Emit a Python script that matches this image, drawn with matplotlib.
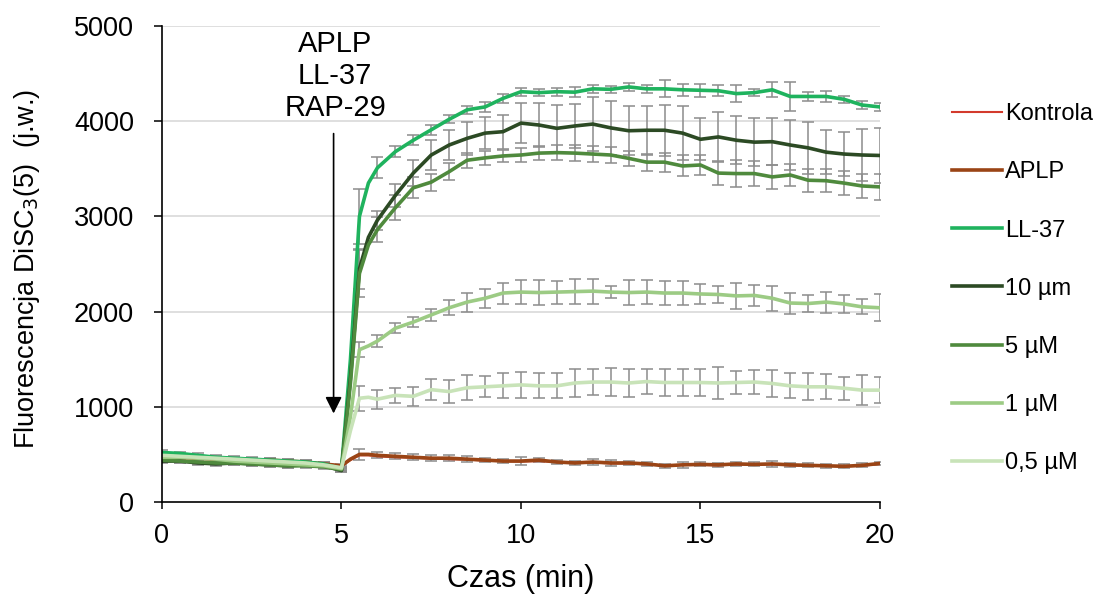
import matplotlib
matplotlib.use("Agg")
from matplotlib import pyplot as plt
import numpy as np

plt.rcParams['font.family'] = ['Liberation Sans', 'DejaVu Sans']

# measurement times (extra points at 5.25 and 5.75 min around the injection)
time = np.array([0, 0.5, 1, 1.5, 2, 2.5, 3, 3.5, 4, 4.5, 5, 5.25, 5.5, 5.75,
                 6, 6.5, 7, 7.5, 8, 8.5, 9, 9.5, 10, 10.5, 11, 11.5, 12,
                 12.5, 13, 13.5, 14, 14.5, 15, 15.5, 16, 16.5, 17, 17.5,
                 18, 18.5, 19, 19.5, 20])
# times with error bars
time_err = np.arange(0, 20.01, 0.5)

kontrola = [450, 460, 455, 445, 440, 435, 430, 425, 415, 405, 380, 440,
            490, 490, 480, 470, 465, 455, 450, 445, 435, 430, 425,
            430, 420, 410, 415, 405, 405, 395, 385, 390, 390,
            385, 395, 390, 395, 385, 380, 380, 375, 380, 400]
aplp = [460, 470, 460, 450, 450, 440, 440, 430, 420, 400, 380, 450,
        500, 500, 490, 480, 470, 460, 460, 450, 440, 430, 430,
        440, 420, 410, 420, 410, 410, 400, 380, 390, 395,
        390, 400, 395, 400, 390, 385, 380, 375, 385, 405]
ll37 = [520, 510, 490, 470, 460, 450, 440, 430, 420, 400, 350, 1500,
        3000, 3350, 3510, 3680, 3800, 3910, 4020, 4120, 4150, 4240, 4310,
        4300, 4310, 4305, 4340, 4335, 4360, 4340, 4340, 4330, 4325,
        4320, 4290, 4300, 4330, 4260, 4260, 4260, 4230, 4170, 4150]
c10 = [430, 430, 410, 400, 410, 400, 390, 380, 390, 380, 330, 1300,
       2450, 2780, 2960, 3220, 3455, 3645, 3750, 3820, 3875, 3890, 3980,
       3960, 3925, 3950, 3970, 3930, 3900, 3905, 3905, 3875, 3810,
       3835, 3800, 3780, 3785, 3750, 3720, 3675, 3655, 3645, 3640]
c5 = [440, 430, 420, 410, 410, 400, 390, 380, 380, 370, 340, 1250,
      2400, 2700, 2860, 3090, 3300, 3360, 3470, 3590, 3615, 3635, 3645,
      3665, 3670, 3665, 3655, 3645, 3610, 3570, 3570, 3530, 3540,
      3455, 3450, 3450, 3415, 3435, 3380, 3375, 3350, 3320, 3310]
c1 = [470, 470, 460, 450, 430, 420, 410, 400, 390, 380, 350, 900,
      1600, 1640, 1690, 1825, 1890, 1965, 2040, 2100, 2140, 2195, 2205,
      2200, 2205, 2210, 2215, 2205, 2200, 2205, 2195, 2195, 2185,
      2180, 2165, 2170, 2140, 2090, 2085, 2100, 2080, 2050, 2040]
c05 = [490, 480, 470, 460, 450, 440, 430, 420, 410, 390, 360, 750,
       1090, 1100, 1080, 1120, 1110, 1180, 1160, 1200, 1210, 1220, 1230,
       1220, 1220, 1250, 1260, 1260, 1250, 1265, 1255, 1255, 1255,
       1250, 1255, 1260, 1245, 1220, 1210, 1210, 1195, 1175, 1175]

err_aplp = [20] * 11 + [60, 30, 30, 30, 30, 30, 30, 20, 20, 40,
                        20, 20, 20, 30, 30, 20, 20, 20, 30, 20,
                        20, 20, 20, 30, 20, 20, 20, 20, 20, 20]
err_ll37 = [30] + [20] * 10 + [290, 110, 60, 50, 50, 40, 40, 50, 50, 40,
                               40, 40, 50, 40, 40, 40, 40, 90, 60, 70,
                               60, 90, 40, 80, 150, 50, 60, 40, 40, 40]
err_c10 = [20] * 11 + [210, 100, 120, 140, 160, 160, 170, 170, 180, 210,
                       230, 250, 230, 280, 280, 260, 260, 270, 280, 220,
                       260, 250, 250, 250, 260, 270, 230, 230, 270, 290]
err_c5 = [20] * 11 + [250, 130, 130, 110, 90, 90, 80, 70, 60, 70,
                      70, 80, 80, 80, 80, 80, 90, 100, 110, 110,
                      130, 140, 130, 130, 120, 120, 120, 130, 130, 140]
err_c1 = [20] * 11 + [80, 60, 50, 50, 60, 80, 100, 100, 110, 130,
                      130, 120, 130, 130, 60, 130, 130, 130, 130, 110,
                      90, 140, 110, 130, 110, 90, 110, 90, 80, 140]
err_c05 = [20] * 11 + [130, 100, 80, 100, 110, 120, 130, 110, 130, 140,
                       130, 130, 150, 140, 150, 150, 130, 140, 140, 140,
                       170, 120, 130, 140, 130, 140, 130, 120, 160, 140]

labels = ["Kontrola", "APLP", "LL-37", "10 µm", "5 µM", "1 µM", "0,5 µM"]
colors = ["#d33a2c", "#9a4415", "#1fb35e", "#2c4a24", "#4f8a3d", "#9ccb84", "#c8e3b8"]
series = [kontrola, aplp, ll37, c10, c5, c1, c05]
errors = [None, err_aplp, err_ll37, err_c10, err_c5, err_c1, err_c05]
widths = [1.5, 2.6, 2.6, 2.6, 2.6, 2.6, 2.6]

fig = plt.figure(figsize=(10.99, 5.94), dpi=100)
ax = fig.add_axes([0.1474, 0.1549, 0.6533, 0.8013])

for y in range(1000, 5001, 1000):
    ax.axhline(y, color='#d9d9d9', lw=1.2, zorder=0)

# error bars first, lines on top
mask = np.isin(time, time_err)
for vals, err in zip(series, errors):
    if err is not None:
        ax.errorbar(time[mask], np.array(vals)[mask], yerr=err, fmt='none',
                    ecolor='#8c8c8c', elinewidth=1.1, capsize=4, capthick=1.1,
                    zorder=1)

handles = []
for vals, c, lab, lw in zip(series, colors, labels, widths):
    h, = ax.plot(time, vals, color=c, lw=lw, label=lab, zorder=2,
                 solid_joinstyle='round')
    handles.append(h)

ax.annotate('', xy=(4.78, 930), xytext=(4.78, 3870),
            arrowprops=dict(arrowstyle='-|>', color='black', lw=1.2,
                            mutation_scale=25, shrinkA=0, shrinkB=0))
ax.text(4.82, 4475, "APLP\nLL-37\nRAP-29", ha='center', va='center',
        fontsize=21, linespacing=1.17)

ax.set_xlim(0, 20)
ax.set_ylim(0, 5000)
ax.set_xticks([0, 5, 10, 15, 20])
ax.set_yticks(range(0, 5001, 1000))
ax.tick_params(direction='out', width=1.1, labelsize=19.5)
ax.tick_params(axis='x', length=5, pad=10)
ax.tick_params(axis='y', length=6, pad=14)
for s in ['top', 'right']:
    ax.spines[s].set_visible(False)
for s in ['left', 'bottom']:
    ax.spines[s].set_linewidth(1.2)

ax.set_xlabel("Czas (min)", fontsize=22)
ax.set_ylabel("Fluorescencja DiSC$_3$(5)  (j.w.)", fontsize=19.5)
ax.xaxis.set_label_coords(0.5, -0.13)
ax.yaxis.set_label_coords(-0.167, 0.49)

fig.legend(handles=handles, loc='upper left', bbox_to_anchor=(0.858, 0.842),
           frameon=False, fontsize=17, handlelength=2.1, handletextpad=0.12,
           labelspacing=1.53, borderaxespad=0)

fig.savefig("out.png", dpi=100)
